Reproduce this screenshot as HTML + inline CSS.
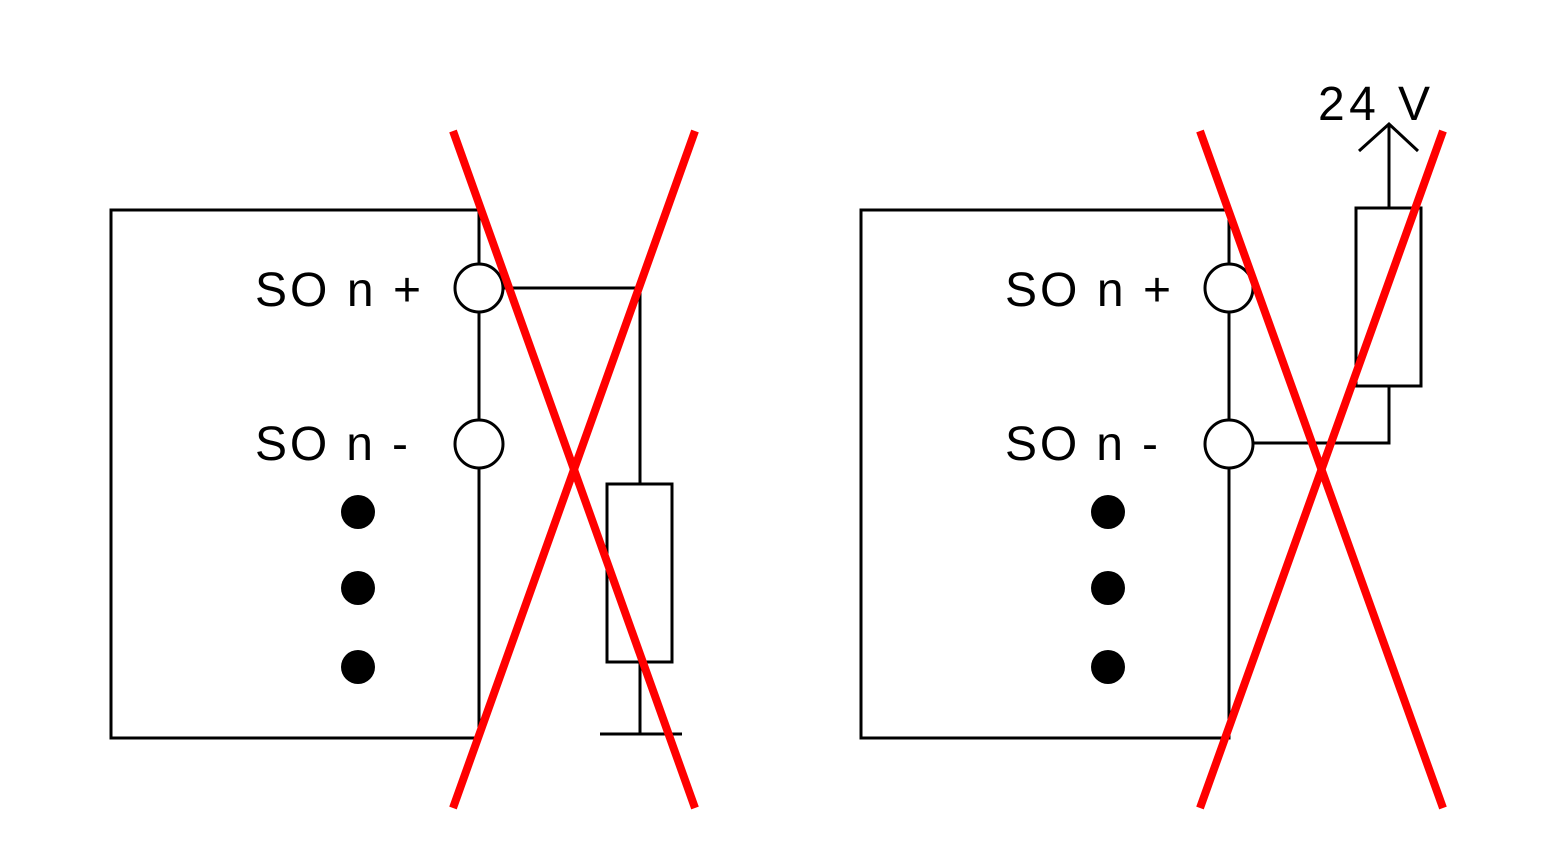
<!DOCTYPE html>
<html><head><meta charset="utf-8"><style>html,body{margin:0;padding:0;background:#fff}svg{display:block}</style></head>
<body>
<svg width="1542" height="864" viewBox="0 0 1542 864" xmlns="http://www.w3.org/2000/svg">
<g fill="none" stroke="#000" stroke-width="3">
<polyline points="479,264 479,210 111,210 111,738 479,738 479,468"/>
<line x1="479" y1="312" x2="479" y2="420"/>
<circle cx="479" cy="288" r="24" fill="#fff"/>
<circle cx="479" cy="444" r="24" fill="#fff"/>
<polyline points="503,288 640,288 640,484"/>
<rect x="607" y="484" width="65" height="178"/>
<line x1="640" y1="662" x2="640" y2="734"/>
<line x1="600" y1="734" x2="682" y2="734"/>
<polyline points="1229,264 1229,210 861,210 861,738 1229,738 1229,468"/>
<line x1="1229" y1="312" x2="1229" y2="420"/>
<circle cx="1229" cy="288" r="24" fill="#fff"/>
<circle cx="1229" cy="444" r="24" fill="#fff"/>
<polyline points="1253,443 1389,443 1389,386"/>
<rect x="1356" y="208" width="65" height="178"/>
<line x1="1389" y1="208" x2="1389" y2="124"/>
<polyline points="1359,151 1389,124 1418,151"/>
</g>
<g fill="#000">
<circle cx="358" cy="512" r="17"/><circle cx="358" cy="588" r="17"/><circle cx="358" cy="667" r="17"/>
<circle cx="1108" cy="512" r="17"/><circle cx="1108" cy="588" r="17"/><circle cx="1108" cy="667" r="17"/>
</g>
<g font-family="Liberation Sans, sans-serif" font-size="48" fill="#000">
<text x="255" y="306" textLength="166" lengthAdjust="spacing">SO n +</text>
<text x="255" y="460" textLength="153" lengthAdjust="spacing">SO n -</text>
<text x="1005" y="306" textLength="166" lengthAdjust="spacing">SO n +</text>
<text x="1005" y="460" textLength="153" lengthAdjust="spacing">SO n -</text>
<text x="1318" y="120" textLength="112" lengthAdjust="spacing">24 V</text>
</g>
<g stroke="#f00" stroke-width="8">
<line x1="453" y1="131" x2="695" y2="808"/>
<line x1="695" y1="131" x2="453" y2="808"/>
<line x1="1200" y1="131" x2="1443" y2="808"/>
<line x1="1443" y1="131" x2="1200" y2="808"/>
</g>
</svg>
</body></html>
